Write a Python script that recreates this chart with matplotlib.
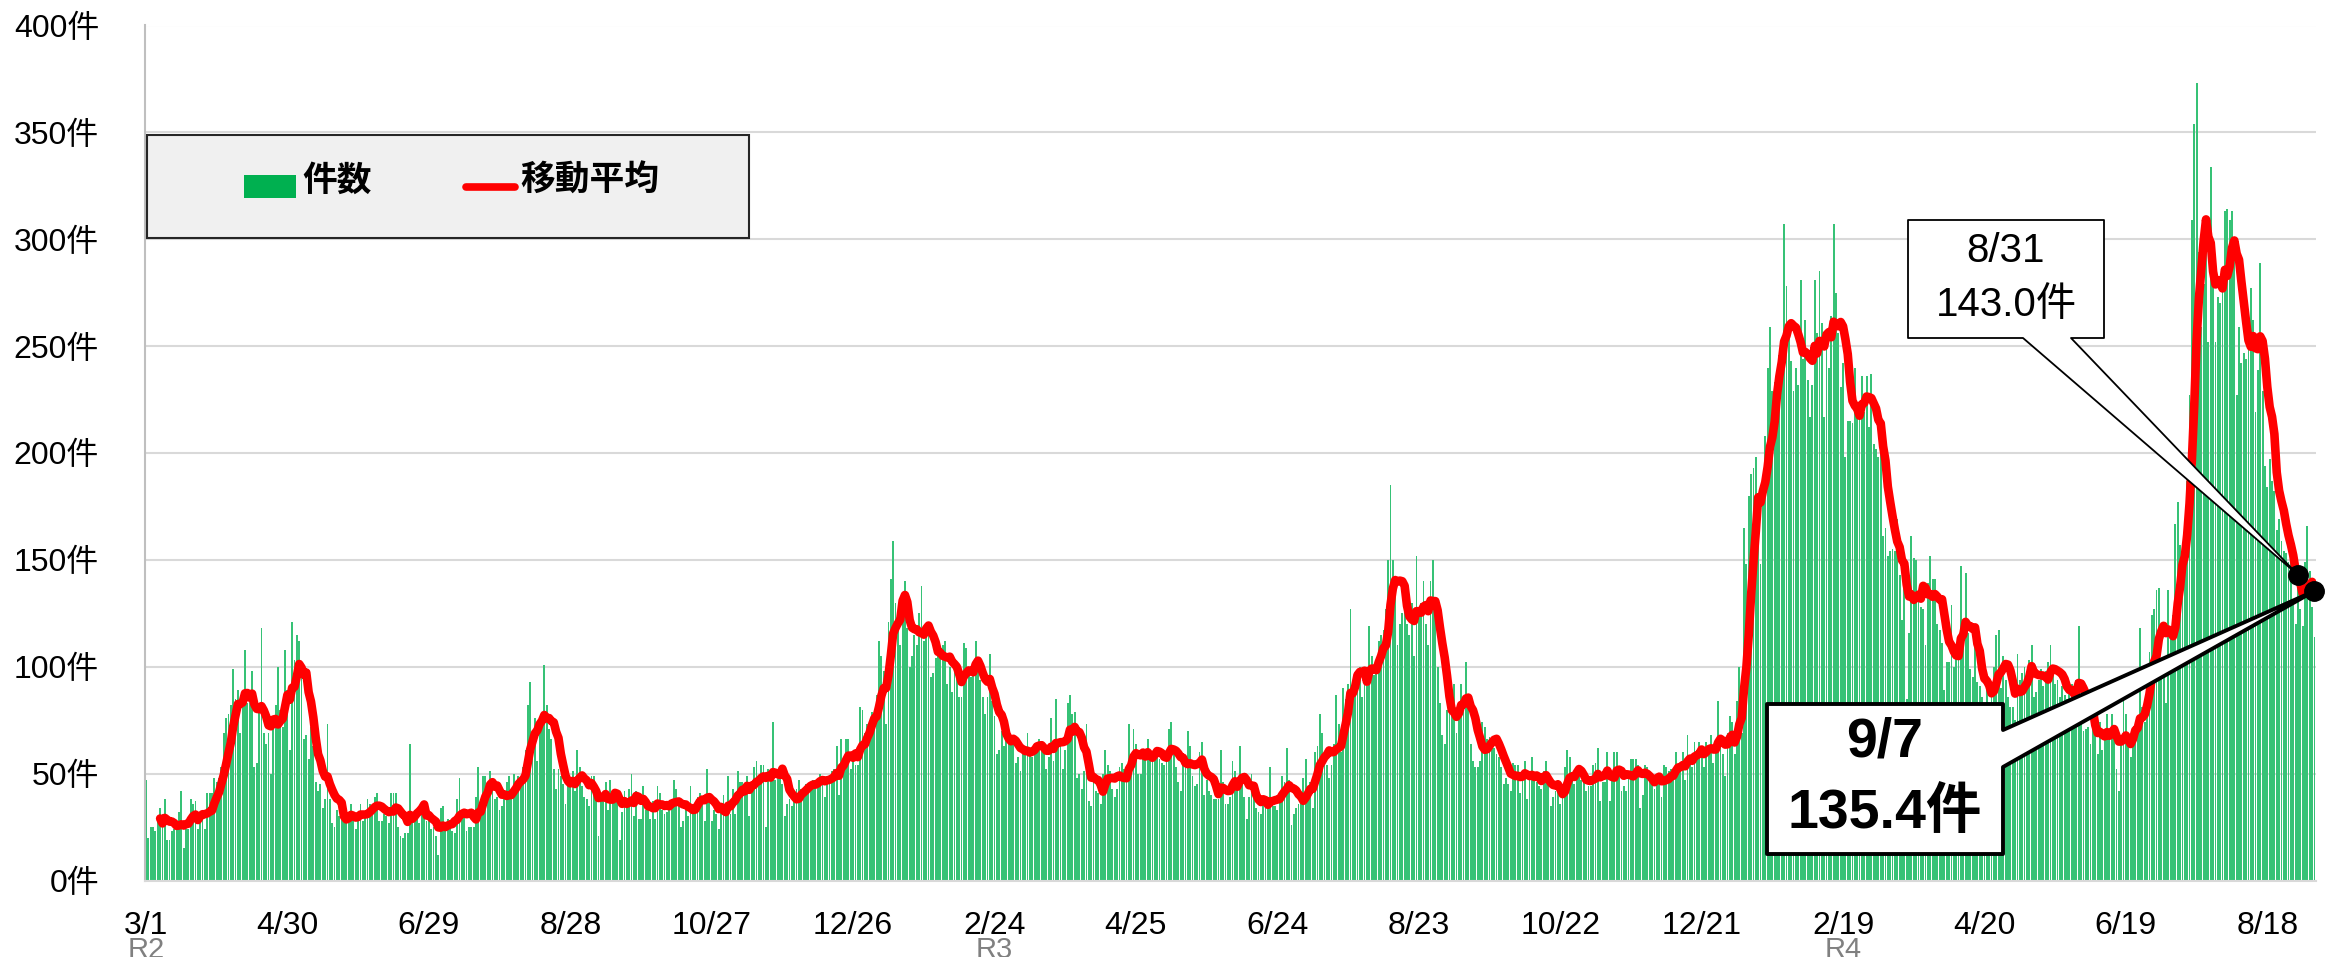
import numpy as np
import pandas as pd
import matplotlib
matplotlib.use("Agg")
import matplotlib.pyplot as plt
from matplotlib.patches import Polygon, Rectangle
from matplotlib.lines import Line2D
from matplotlib.transforms import blended_transform_factory

# ---------------- data ----------------
start_date = "2020-03-01"
counts = [
    # 2020-03-01 ..
    47,20,25,25,23,29,34,31,38,19, 19,23,24,25,32,42,15,24,24,38,
    36,37,24,27,31,24,41,41,41,48, 46,48,53,69,76,78,82,99,85,89,
    69,81,108,83,84,98,53,55,80,118, 69,64,69,50,77,82,100,80,72,108,
    89,61,121,103,115,112,96,66,68,57, 72,63,46,42,45,34,38,73,38,27,
    25,33,30,29,28,28,31,36,30,24, 31,36,28,31,38,36,32,39,41,28,
    28,31,30,27,41,41,
    41,25,21,20,
    22,22,64,28,33,31,27,31,35,28, 29,24,25,21,12,34,35,24,29,28,
    23,22,38,48,30,33,23,25,25,25, 39,53,35,49,49,38,51,47,38,39,
    33,35,39,46,49,39,50,44,49,47, 53,61,82,93,70,76,56,74,72,101,
    82,71,66,52,43,52,49,45,36,49, 44,51,42,61,53,44,39,38,35,49,
    49,39,21,41,38,46,33,47,39,43, 38,19,32,42,38,43,50,30,42,29,
    29,44,33,
    36,29,37,29,44,41,33,
    31,32,33,38,47,43,35,25,28,33, 30,44,36,36,39,41,39,28,52,38,
    28,33,31,24,35,40,33,49,31,43, 31,51,46,46,44,49,30,45,53,56,
    49,54,54,25,52,47,74,47,49,52, 45,30,36,38,35,39,43,47,43,43,
    45,43,46,47,47,47,50,49,39,49, 49,51,52,63,40,66,56,66,66,52,
    56,54,54,81,80,69,73,73,79,76, 87,112,105,98,
    73,121,141,159,130,120,110,135,140,118,100,105,115,110,125,138,112,120,115,
    95,97,104,106,109,110,112,
    92,100,88,98,100,86,86,111,109,98, 95,97,112,98,94,86,78,86,106,84,
    77,59,61,70,63,67,68,68,67,55, 58,51,63,62,69,61,58,63,63,66,
    63,60,52,58,76,56,85,63,63,52, 61,83,87,78,79,48,50,43,51,73,
    37,35,50,42,41,36,50,61,54,51, 43,39,43,53,55,52,50,73,
    52,71,
    64,50,50,59,60,66,61,56,60,62, 57,55,54,58,71,74,60,53,46,42,
    56,54,70,63,49,44,45,60,65,40, 47,42,40,38,38,38,61,46,36,36,
    39,56,51,43,63,48,39,29,39,50, 42,34,32,31,38,36,35,53,35,35,
    33,40,49,46,62,47,26,31,34,36, 39,48,57,40,46,34,60,63,78,69,
    54,54,48,54,64,87,73,60,90,85, 92,127,86,95,98,100,86,95,91,119,
    105,96,97,112,115,117,127,
    150,185,150,140,110,120,125,135,120,115,130,105,152,125,130,140,120,110,140,150,125,100,
    83,68,64,80,83,80,92,69,79,92, 82,102,83,64,56,53,53,56,74,72,
    66,67,64,62,59,58,53,45,48,45, 42,55,54,54,41,49,56,38,50,58,
    47,46,44,43,51,56,45,35,39,42, 47,36,39,53,61,58,47,45,50,51,
    47,48,42,44,44,54,55,62,37,46, 46,60,37,51,60,60,49,42,44,42,
    50,57,57,57,
    54,34,40,54,53,50,48,43,47,45, 39,54,53,51,52,49,60,51,55,60,
    47,68,58,53,65,59,65,61,53,65, 62,68,55,65,84,65,59,49,69,77,
    74,59,84,100,
    69,165,148,180,190,193,198,181,148,186, 208,240,259,229,233,237,246,254,307,278,
    260,243,229,240,232,281,244,262,234,217, 232,281,256,285,261,217,256,240,264,307,
    275,256,231,242,198,215,215,214,240,221, 219,236,219,236,212,237,204,202,198,208,
    161,165,
    152,154,155,154,169,143,122,141,85,116, 161,151,150,132,128,127,110,139,152,141,
    141,120,117,111,89,102,102,129,100,104, 109,147,114,144,116,99,95,114,93,91,
    86,83,92,80,88,100,115,117,90,105, 94,86,81,81,75,106,94,97,100,92,
    103,110,86,88,94,99,91,98,102,110, 100,92,94,86,91,87,85,89,92,81,
    94,119,85,70,71,72,64,78,69,59, 74,61,67,78,66,78,72,52,42,
    67,86,78,64,58,68,71,74,118,81, 74,86,107,124,127,136,137,99,104,83,
    136,117,124,167,177,157,156,164,187,227, 309,354,373,294,259,279,297,252,334,279,
    252,273,270,279,313,314,309,313,298,227, 259,242,247,244,252,277,262,219,239,289,
    229,194,184,197,187,182,164,169,159,154, 153,149,152,129,120,144,127,119,149,166,
    145,128,114,
]
ma_window = 7
tick_dates = ["2020-03-01", "2020-04-30", "2020-06-29", "2020-08-28", "2020-10-27",
              "2020-12-26", "2021-02-24", "2021-04-25", "2021-06-24", "2021-08-23",
              "2021-10-22", "2021-12-21", "2022-02-19", "2022-04-20", "2022-06-19",
              "2022-08-18"]
tick_labels = ["3/1", "4/30", "6/29", "8/28", "10/27", "12/26", "2/24", "4/25",
               "6/24", "8/23", "10/22", "12/21", "2/19", "4/20", "6/19", "8/18"]
era_dates = ["2020-03-01", "2021-02-24", "2022-02-19"]
era_labels = ["R2", "R3", "R4"]
y_ticks = [0, 50, 100, 150, 200, 250, 300, 350, 400]
y_tick_labels = [f"{v}件" for v in y_ticks]
series_names = ["件数", "移動平均"]
callout_dates = ["2022-08-31", "2022-09-07"]

# ---------------- derived ----------------
start = pd.Timestamp(start_date)
n = len(counts)
x = np.arange(n)
ma = pd.Series(counts, dtype=float).rolling(ma_window).mean().values
def day_index(d):
    return (pd.Timestamp(d) - start).days

# ---------------- style ----------------
plt.rcParams["font.family"] = ["Liberation Sans", "Noto Sans CJK JP"]
W, H = 2351, 957
BAR = "#36c276"
RED = "#ff0000"

fig = plt.figure(figsize=(W / 100, H / 100), dpi=100)
ax = fig.add_axes([145 / W, 1 - 880.5 / H, (2316 - 145) / W, (880.5 - 25.5) / H])

def fpx(px, py):
    return (px / W, 1 - py / H)

ax.bar(x, counts, width=0.78, color=BAR, linewidth=0, zorder=2)
ax.plot(x, ma, color=RED, lw=6.2, solid_capstyle="round", solid_joinstyle="round", zorder=3)

ax.set_xlim(-0.42, 920.66)
ax.set_ylim(0, 400)
ax.set_yticks(y_ticks)
ax.set_yticklabels(y_tick_labels)
ax.set_xticks([day_index(d) for d in tick_dates])
ax.set_xticklabels(tick_labels)
ax.yaxis.grid(True, color="#d9d9d9", lw=1.5, zorder=0)
ax.set_axisbelow(True)
ax.tick_params(axis="y", length=0, pad=33, labelsize=23, colors="black")
ax.tick_params(axis="x", length=0, pad=22, labelsize=23, colors="black")
for s in ["top", "right"]:
    ax.spines[s].set_visible(False)
ax.spines["left"].set_color("#bfbfbf")
ax.spines["left"].set_linewidth(1.5)
ax.spines["bottom"].set_color("#d9d9d9")
ax.spines["bottom"].set_linewidth(1.5)

# era labels (partly cut off at the bottom edge, as in the original)
btr = blended_transform_factory(ax.transData, fig.transFigure)
for d, lab in zip(era_dates, era_labels):
    ax.text(day_index(d), 1 - 936 / H, lab, transform=btr, ha="center", va="top",
            fontsize=21, color="#808080", clip_on=False)

# legend box
fig.add_artist(Rectangle(fpx(147, 238), 602 / W, 103 / H, transform=fig.transFigure,
                         facecolor="#f0f0f0", edgecolor="#262626", lw=1.5))
fig.add_artist(Rectangle(fpx(244, 198), 52 / W, 23 / H, transform=fig.transFigure,
                         facecolor="#00b050", edgecolor="none"))
fig.text(302 / W, 1 - 181 / H, series_names[0], fontsize=25, fontweight="bold",
         va="center", ha="left")
fig.add_artist(Line2D([466 / W, 515 / W], [1 - 187 / H] * 2, color=RED, lw=5.5,
                      solid_capstyle="round", transform=fig.transFigure))
fig.text(520 / W, 1 - 181 / H, series_names[1], fontsize=25, fontweight="bold",
         va="center", ha="left")

# callouts
inv = fig.transFigure.inverted()
def tip_of(i):
    return inv.transform(ax.transData.transform((i, ma[i])))

i1 = min(day_index(callout_dates[0]), n - 1)
i2 = min(day_index(callout_dates[1]), n - 1)
t1 = tip_of(i1)
t2 = tip_of(i2)

poly1 = [fpx(1908, 220), fpx(2104, 220), fpx(2104, 338), fpx(2071, 338), tuple(t1),
         fpx(2023, 338), fpx(1908, 338)]
ax.add_patch(Polygon(poly1, closed=True, transform=fig.transFigure, facecolor="white",
                     edgecolor="black", lw=1.3, joinstyle="round", zorder=5, clip_on=False))
poly2 = [fpx(1767, 704), fpx(2003, 704), fpx(2003, 730), tuple(t2), fpx(2003, 767),
         fpx(2003, 854), fpx(1767, 854)]
ax.add_patch(Polygon(poly2, closed=True, transform=fig.transFigure, facecolor="white",
                     edgecolor="black", lw=2.8, joinstyle="round", zorder=5, clip_on=False))

d1 = pd.Timestamp(callout_dates[0])
d2 = pd.Timestamp(callout_dates[1])
ax.text(*fpx(2006, 251), f"{d1.month}/{d1.day}", transform=fig.transFigure, ha="center",
        va="center", fontsize=29, zorder=6)
ax.text(*fpx(2006, 305), f"{ma[i1]:.1f}件", transform=fig.transFigure, ha="center",
        va="center", fontsize=29, zorder=6)
ax.text(*fpx(1885, 743), f"{d2.month}/{d2.day}", transform=fig.transFigure, ha="center",
        va="center", fontsize=40, fontweight="bold", zorder=6)
ax.text(*fpx(1885, 814), f"{ma[i2]:.1f}件", transform=fig.transFigure, ha="center",
        va="center", fontsize=40, fontweight="bold", zorder=6)

ax.plot([i1, i2], [ma[i1], ma[i2]], "o", color="black", ms=14, zorder=7, clip_on=False)

fig.savefig("out.png", dpi=100)
